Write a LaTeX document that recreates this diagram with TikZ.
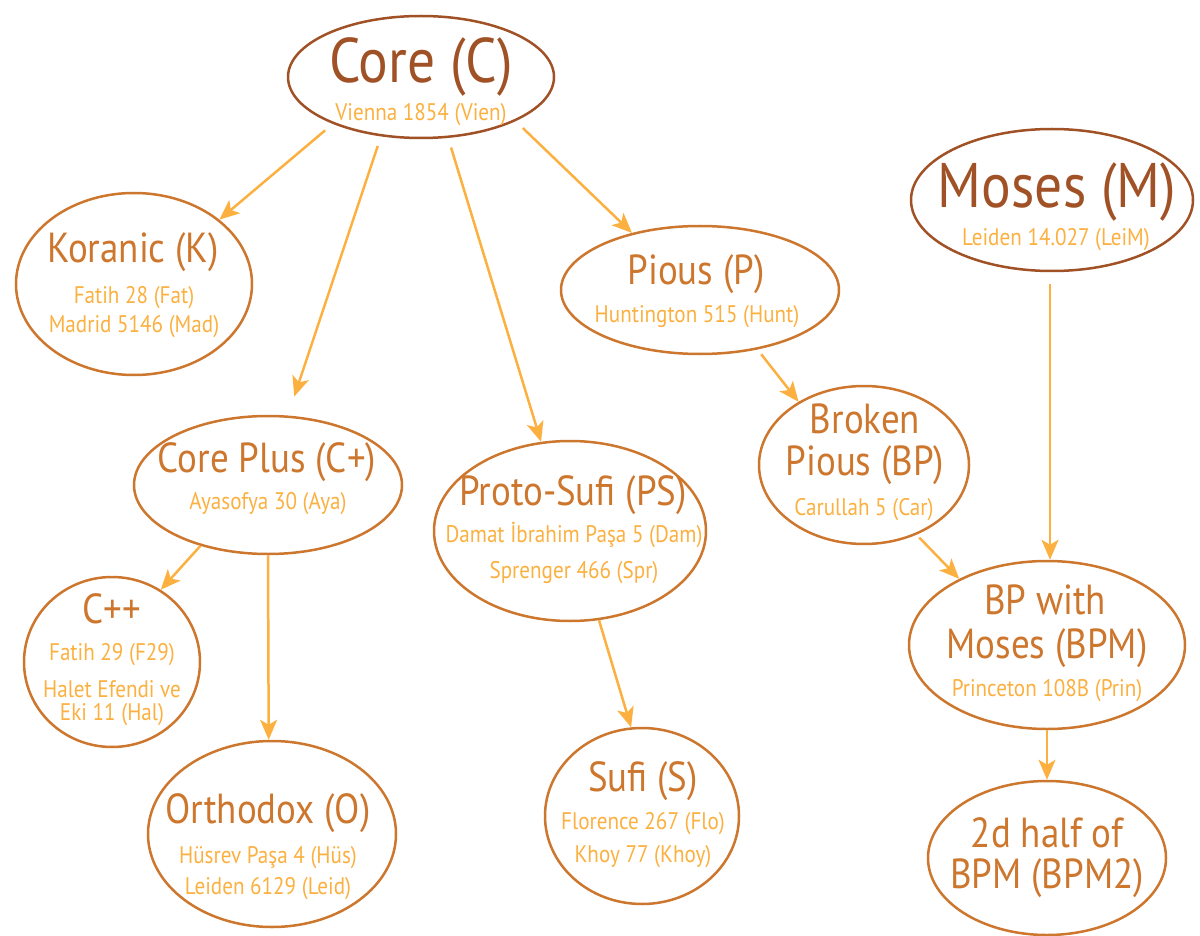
\documentclass[tikz,border=0pt]{standalone}
\usepackage{fontspec}
\setmainfont[FakeStretch=0.88]{PT Sans}
\usetikzlibrary{shapes.geometric,arrows.meta}
\definecolor{rootbrown}{RGB}{160,82,38}
\definecolor{nodebrown}{RGB}{205,118,45}
\definecolor{msorange}{RGB}{251,176,64}

\begin{document}
\begin{tikzpicture}[x=1pt,y=-1pt,
  fam/.style={ellipse,draw=nodebrown,line width=2.5pt,inner sep=0pt},
  root/.style={fam,draw=rootbrown},
  ttl/.style={anchor=base,text=nodebrown,font=\fontsize{42}{46}\selectfont,inner sep=0pt},
  big/.style={ttl,text=rootbrown,font=\fontsize{63}{66}\selectfont},
  ms/.style={anchor=base,text=msorange,font=\fontsize{24}{28}\selectfont,inner sep=0pt},
  dep/.style={-{Stealth[length=20pt,width=17pt,inset=5pt]},draw=msorange,line width=2.5pt}]

\useasboundingbox (0,0) rectangle (1200,936);

% families
\node[root,minimum width=266,minimum height=122] (core) at (421,77) {};
\node[fam,minimum width=236,minimum height=182] (kor) at (134,284) {};
\node[fam,minimum width=268,minimum height=138] (cplus) at (268,485) {};
\node[fam,minimum width=176,minimum height=170] (cpp) at (112,662) {};
\node[fam,minimum width=248,minimum height=186] (orth) at (272,834) {};
\node[fam,minimum width=272,minimum height=180] (psufi) at (570,531) {};
\node[fam,minimum width=194,minimum height=176] (sufi) at (642,816) {};
\node[fam,minimum width=278,minimum height=128] (pious) at (700,290) {};
\node[fam,minimum width=210,minimum height=158] (bpious) at (864,465) {};
\node[root,minimum width=282,minimum height=142] (moses) at (1052,200) {};
\node[fam,minimum width=276,minimum height=168] (bpm) at (1047,645) {};
\node[fam,minimum width=238,minimum height=154] (bpm2) at (1047,858) {};

% names and manuscripts
\node[big] (core-t) at (421,83) {Core (C)};
\node[ms] (core-m) at (421,121) {Vienna 1854 (Vien)};
\node[ttl] (kor-t) at (133,262) {Koranic (K)};
\node[ms] (kor-m1) at (134,303) {Fatih 28 (Fat)};
\node[ms] (kor-m2) at (134,332) {Madrid 5146 (Mad)};
\node[ttl] (cplus-t) at (267,472) {Core Plus (C+)};
\node[ms] (cplus-m) at (268,509) {Ayasofya 30 (Aya)};
\node[ttl] (cpp-t) at (112,623) {C++};
\node[ms] (cpp-m1) at (112,660) {Fatih 29 (F29)};
\node[ms] (cpp-m2) at (112,697) {Halet Efendi ve};
\node[ms] (cpp-m3) at (112,720) {Eki 11 (Hal)};
\node[ttl] (orth-t) at (268,823) {Orthodox (O)};
\node[ms] (orth-m1) at (268,863) {Hüsrev Paşa 4 (Hüs)};
\node[ms] (orth-m2) at (268,894) {Leiden 6129 (Leid)};
\node[ttl] (psufi-t) at (573,505) {Proto-Sufi (PS)};
\node[ms] (psufi-m1) at (574,542) {Damat İbrahim Paşa 5 (Dam)};
\node[ms] (psufi-m2) at (574,578) {Sprenger 466 (Spr)};
\node[ttl] (sufi-t) at (643,791) {Sufi (S)};
\node[ms] (sufi-m1) at (643,829) {Florence 267 (Flo)};
\node[ms] (sufi-m2) at (643,862) {Khoy 77 (Khoy)};
\node[ttl] (pious-t) at (696,285) {Pious (P)};
\node[ms] (pious-m) at (697,322) {Huntington 515 (Hunt)};
\node[ttl] (bpious-t1) at (865,433) {Broken};
\node[ttl] (bpious-t2) at (865,475) {Pious (BP)};
\node[ms] (bpious-m) at (864,515) {Carullah 5 (Car)};
\node[big] (moses-t) at (1057,208) {Moses (M)};
\node[ms] (moses-m) at (1056,246) {Leiden 14.027 (LeiM)};
\node[ttl] (bpm-t1) at (1045,614) {BP with};
\node[ttl] (bpm-t2) at (1047,658) {Moses (BPM)};
\node[ms] (bpm-m) at (1047,696) {Princeton 108B (Prin)};
\node[ttl] (bpm2-t1) at (1047,847) {2d half of};
\node[ttl] (bpm2-t2) at (1047,888) {BPM (BPM2)};

% descent
\draw[dep,shorten <=10pt] (core.208) -- (kor.37);
\draw[dep,shorten <=10pt,shorten >=20pt] (core.236) -- (cplus.74);
\draw[dep,shorten <=10pt] (core.294) -- (psufi.108);
\draw[dep,shorten <=10pt] (core.335) -- (pious.140);
\draw[dep] (cplus.222) -- (cpp.56);
\draw[dep] (cplus.south) -- (orth.92);
\draw[dep] (psufi.288) -- (sufi.97);
\draw[dep,shorten <=6pt] (pious.314) -- (bpious.136);
\draw[dep,shorten <=4pt] (bpious.307) -- (bpm.143);
\draw[dep,shorten <=12pt] ([xshift=-2pt]moses.south) -- ([xshift=3pt]bpm.north);
\draw[dep] (bpm.south) -- (bpm2.north);

\end{tikzpicture}
\end{document}
